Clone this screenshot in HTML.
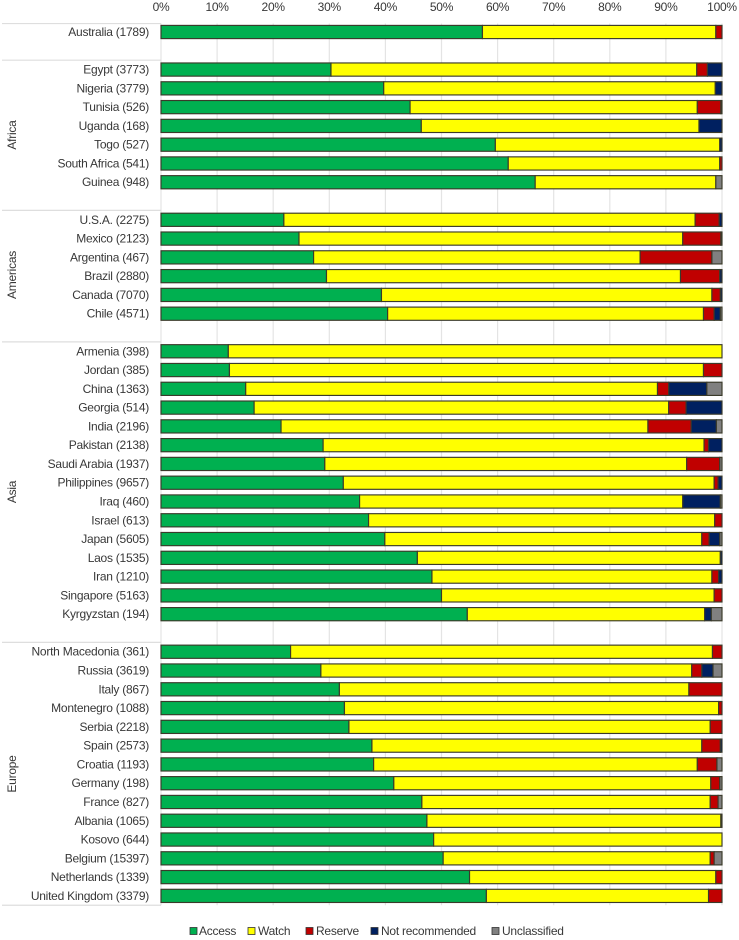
<!DOCTYPE html>
<html lang="en">
<head>
<meta charset="utf-8">
<title>Antibiotic consumption by AWaRe category</title>
<style>
html,body{margin:0;padding:0;background:#fff;width:739px;height:940px;overflow:hidden}
svg{display:block;filter:blur(0.3px)}
text{font-family:"Liberation Sans",sans-serif;fill:#383838;font-size:12px;letter-spacing:-0.25px}
</style>
</head>
<body>
<svg id="chart" xmlns="http://www.w3.org/2000/svg" width="739" height="940" viewBox="0 0 739 940">
  <g id="grid"></g>
  <g id="separators"></g>
  <g id="ticks"></g>
  <g id="labels"></g>
  <g>
    <text x="16" y="135" text-anchor="middle" transform="rotate(-90 16 135)">Africa</text>
    <text x="16" y="275" text-anchor="middle" transform="rotate(-90 16 275)">Americas</text>
    <text x="16" y="492" text-anchor="middle" transform="rotate(-90 16 492)">Asia</text>
    <text x="16" y="774" text-anchor="middle" transform="rotate(-90 16 774)">Europe</text>
  </g>
  <g id="bars"></g>
  <g>
    <g><rect x="190" y="927.5" width="7" height="7" fill="#00b050" stroke="#333" stroke-width="0.8"/><text x="199" y="935">Access</text></g>
    <g><rect x="248" y="927.5" width="7" height="7" fill="#ffff00" stroke="#333" stroke-width="0.8"/><text x="258" y="935">Watch</text></g>
    <g><rect x="306" y="927.5" width="7" height="7" fill="#c00000" stroke="#333" stroke-width="0.8"/><text x="316" y="935">Reserve</text></g>
    <g><rect x="371" y="927.5" width="7" height="7" fill="#002060" stroke="#333" stroke-width="0.8"/><text x="381" y="935">Not recommended</text></g>
    <g><rect x="492" y="927.5" width="7" height="7" fill="#808080" stroke="#333" stroke-width="0.8"/><text x="502" y="935">Unclassified</text></g>
  </g>
</svg>
<script>
const tickLabels = ["0%","10%","20%","30%","40%","50%","60%","70%","80%","90%","100%"];
const tickValues = [0,10,20,30,40,50,60,70,80,90,100];
const groupSizes = [1,7,6,15,14];
const categories = ["Australia (1789)",
"Egypt (3773)","Nigeria (3779)","Tunisia (526)","Uganda (168)","Togo (527)","South Africa (541)","Guinea (948)",
"U.S.A. (2275)","Mexico (2123)","Argentina (467)","Brazil (2880)","Canada (7070)","Chile (4571)",
"Armenia (398)","Jordan (385)","China (1363)","Georgia (514)","India (2196)","Pakistan (2138)","Saudi Arabia (1937)","Philippines (9657)","Iraq (460)","Israel (613)","Japan (5605)","Laos (1535)","Iran (1210)","Singapore (5163)","Kyrgyzstan (194)",
"North Macedonia (361)","Russia (3619)","Italy (867)","Montenegro (1088)","Serbia (2218)","Spain (2573)","Croatia (1193)","Germany (198)","France (827)","Albania (1065)","Kosovo (644)","Belgium (15397)","Netherlands (1339)","United Kingdom (3379)"];
const access = [57.3,
30.3,39.7,44.4,46.4,59.6,61.9,66.7,
21.9,24.6,27.2,29.5,39.3,40.4,
12,12.2,15.1,16.6,21.4,28.9,29.2,32.5,35.4,37,39.9,45.7,48.3,50,54.6,
23.1,28.5,31.8,32.7,33.5,37.6,37.9,41.5,46.5,47.4,48.6,50.3,55,58];
const watch = [41.6,
65.2,59.1,51.2,49.5,40,37.7,32.2,
73.3,68.4,58.2,63.1,58.9,56.3,
88,84.5,73.4,73.9,65.4,67.9,64.5,66.1,57.6,61.7,56.5,54,49.9,48.6,42.3,
75.2,66.1,62.3,66.7,64.4,58.8,57.7,56.5,51.4,52.4,51.4,47.6,43.9,39.6];
const reserve = [1.1,
1.9,0,4.2,0,0,0.4,0,
4.3,6.8,12.8,7,1.5,1.9,
0,3.3,2,3.1,7.7,0.8,5.9,0.7,0,1.3,1.3,0,1.2,1.4,0,
1.7,1.8,5.9,0.6,2.1,3.3,3.5,1.6,1.4,0.2,0,0.7,1.1,2.4];
const notRecommended = [0,
2.6,1.2,0.2,4.1,0.4,0,0,
0.5,0.2,0,0.4,0.3,1.1,
0,0,6.8,6.4,4.5,2.4,0,0.7,6.7,0,1.9,0.3,0.6,0,1.2,
0,2,0,0,0,0.3,0,0,0,0,0,0,0,0];
const unclassified = [0,
0,0,0,0,0,0,1.1,
0,0,1.8,0,0,0.3,
0,0,2.7,0,1,0,0.4,0,0.3,0,0.4,0,0,0,1.9,
0,1.6,0,0,0,0,0.9,0.4,0.7,0,0,1.4,0,0];
const seriesNames = ["access","watch","reserve","not-recommended","unclassified"];
const seriesValues = [access,watch,reserve,notRecommended,unclassified];
const seriesColors = ["#00b050","#ffff00","#c00000","#002060","#808080"];

const NS = "http://www.w3.org/2000/svg";
const x0 = 161, x100 = 722, yTop = 32, rowStep = 18.78, barH = 13.2;
const xScale = v => x0 + (x100 - x0) * v / 100;
const yScale = slot => yTop + slot * rowStep;
function make(tag, attrs, parent){
  const el = document.createElementNS(NS, tag);
  for (const k in attrs) el.setAttribute(k, attrs[k]);
  parent.appendChild(el);
  return el;
}
const gridG = document.getElementById("grid");
const sepG = document.getElementById("separators");
const tickG = document.getElementById("ticks");
const labelG = document.getElementById("labels");
const barG = document.getElementById("bars");

const totalSlots = groupSizes.reduce((a,b)=>a+b,0) + groupSizes.length - 1;
const plotTop = yScale(-0.45), plotBottom = yScale(totalSlots - 0.5);

tickValues.forEach((v,i) => {
  const line = make("line",{x1:xScale(v),x2:xScale(v),y1:plotTop,y2:plotBottom,stroke:"#e4e4e4","stroke-width":1.2},gridG);
  
  
  const t = make("text",{x:xScale(v),y:11,"text-anchor":"middle"},tickG);
  t.textContent = tickLabels[i];
  
  
});

function separator(y){
  const s = make("line",{x1:2,x2:x0,y1:y,y2:y,stroke:"#dedede","stroke-width":1.2},sepG);
  
  
}
separator(plotTop);

let slot = 0, idx = 0;
groupSizes.forEach((size,g) => {
  for (let r = 0; r < size; r++){
    const y = yScale(slot);
    const lab = make("text",{x:149,y:y+4,"text-anchor":"end"},labelG);
    lab.textContent = categories[idx];
    
    
    let cum = 0;
    seriesValues.forEach((vals,s) => {
      const v = vals[idx];
      if (v > 0){
        const seg = make("rect",{x:xScale(cum),y:y-barH/2,width:xScale(cum+v)-xScale(cum),height:barH,fill:seriesColors[s],stroke:"#3a3a2a","stroke-width":1.15},barG);
        
        
      }
      cum += v;
    });
    slot++; idx++;
  }
  separator(yScale(slot + (g < groupSizes.length - 1 ? 0.5 : -0.5)));
  slot++;
});
</script>
</body>
</html>
